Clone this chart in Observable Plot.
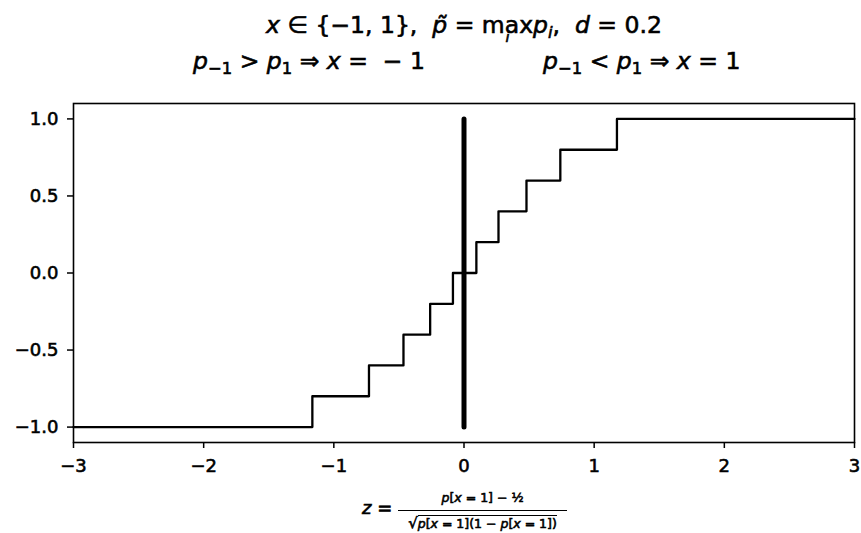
<!DOCTYPE html>
<html>
<head>
<meta charset="utf-8">
<script src="https://cdn.jsdelivr.net/npm/d3@7"></script>
<script src="https://cdn.jsdelivr.net/npm/@observablehq/plot@0.6"></script>
<style>
  html, body { margin: 0; padding: 0; background: white; }
  #wrap { position: relative; width: 861px; height: 533px; overflow: hidden; background: white; font-family: "DejaVu Sans", sans-serif; color: black; }
  #chart { position: absolute; left: 0; top: 0; }
  #chart svg text { stroke: black; stroke-width: 0.6px; }
  .t { position: absolute; line-height: 1; white-space: pre; font-family: "DejaVu Sans", sans-serif; -webkit-text-stroke: 0.6px black; }
  .title { font-size: 23.5px; }
  .sub { position: relative; top: 0.28em; font-size: 0.7em; }
  .max { position: relative; display: inline-block; }
  .lim { position: absolute; left: 0; right: 0; top: 1.12em; text-align: center; font-size: 0.62em; font-style: italic; line-height: 1; }
  .num, .den { font-size: 12.5px; text-align: center; width: 173px; }
  .rad { border-top: 1.3px solid black; }
  .root { font-size: 15px; }
</style>
</head>
<body>
<div id="wrap">
  <div id="chart"></div>
  <div class="t title" style="top:14px;left:0;width:928px;text-align:center;"><i>x</i> ∈ {−1, 1},  <i>p̃</i> = <span class="max">max<span class="lim">i</span></span><i>p</i><span class="sub"><i>i</i></span>,  <i>d</i> = 0.2</div>
  <div class="t title" style="top:50px;left:193px;"><i>p</i><span class="sub">−1</span> &gt; <i>p</i><span class="sub">1</span> ⇒ <i>x</i> =  − 1</div>
  <div class="t title" style="top:50px;left:543px;"><i>p</i><span class="sub">−1</span> &lt; <i>p</i><span class="sub">1</span> ⇒ <i>x</i> = 1</div>
  <div class="t" style="left:362px;top:499px;font-size:18px;"><i>z</i> =</div>
  <div class="t num" style="left:396px;top:492px;"><i>p</i>[<i>x</i> = 1] − ½</div>
  <div style="position:absolute;left:398px;top:510px;width:169px;height:1.4px;background:black;"></div>
  <div class="t den" style="left:396px;top:516px;"><span class="root">√</span><span class="rad"><i>p</i>[<i>x</i> = 1](1 − <i>p</i>[<i>x</i> = 1])</span></div>
</div>
<script>
// Step function breakpoints (z) and levels
const stepZ = [-3, -1.165, -0.73, -0.465, -0.26, -0.085, 0.095, 0.265, 0.48, 0.74, 1.175, 3];
const stepLevel = [-1, -0.8, -0.6, -0.4, -0.2, 0, 0.2, 0.4, 0.6, 0.8, 1, 1];
// Thick vertical divider at z = 0
const dividerZ = [0, 0];
const dividerLevel = [-1, 1];
// Ticks
const xTicks = [-3, -2, -1, 0, 1, 2, 3];
const yTicks = [-1, -0.5, 0, 0.5, 1];

const steps = stepZ.map((z, i) => ({z, v: stepLevel[i]}));
const divider = dividerZ.map((z, i) => ({z, v: dividerLevel[i]}));

const chart = Plot.plot({
  width: 861,
  height: 533,
  marginLeft: 73,
  marginRight: 7,
  marginTop: 103,
  marginBottom: 91,
  x: {domain: [-3, 3]},
  y: {domain: [-1.1, 1.1]},
  style: {fontFamily: "DejaVu Sans", fontSize: "18px", color: "black", background: "transparent"},
  marks: [
    Plot.axisX(xTicks, {tickSize: 6, tickPadding: 11, tickFormat: d3.format("d"), label: null, strokeWidth: 1.5}),
    Plot.axisY(yTicks, {tickSize: 6, tickPadding: 9, tickFormat: d3.format(".1f"), label: null, strokeWidth: 1.5}),
    Plot.line(steps, {x: "z", y: "v", curve: "step-after", stroke: "black", strokeWidth: 2.3}),
    Plot.line(divider, {x: "z", y: "v", stroke: "black", strokeWidth: 5}),
    Plot.frame({stroke: "black", strokeWidth: 1.6})
  ]
});
document.getElementById("chart").appendChild(chart);
</script>
</body>
</html>
